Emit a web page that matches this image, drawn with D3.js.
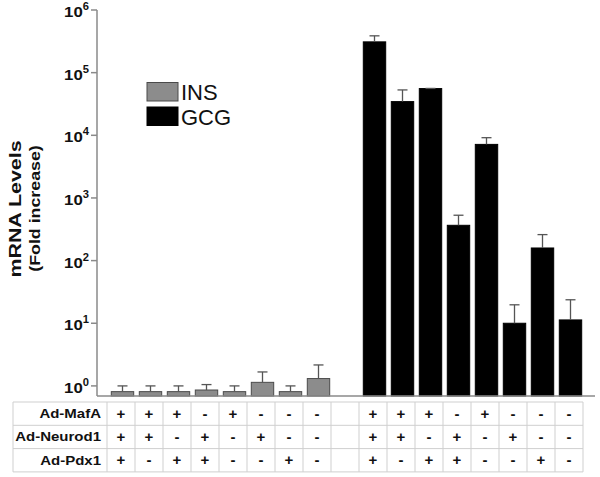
<!DOCTYPE html>
<html>
<head>
<meta charset="utf-8">
<script src="https://cdn.jsdelivr.net/npm/d3@7"></script>
<style>
  html, body { margin: 0; padding: 0; background: #fff; }
  svg { display: block; font-family: "Liberation Sans", Arial, sans-serif; }
</style>
</head>
<body>
<svg id="chart" width="600" height="477"></svg>
<script>
// ---- data ----
const seriesNames = ["INS", "GCG"];
const insMeans = [0.81, 0.81, 0.81, 0.86, 0.81, 1.14, 0.81, 1.31];
const insErr   = [0.19, 0.19, 0.19, 0.19, 0.19, 0.53, 0.19, 0.85];
const gcgMeans = [310000, 34500, 55700, 366, 7160, 10.0, 159, 11.3];
const gcgErr   = [77000, 18500, 300, 164, 2000, 9.7, 101, 12.4];
const rowLabels = ["Ad-MafA", "Ad-Neurod1", "Ad-Pdx1"];
const mafA    = ["+", "+", "+", "-", "+", "-", "-", "-"];
const neurod1 = ["+", "+", "-", "+", "-", "+", "-", "-"];
const pdx1    = ["+", "-", "+", "+", "-", "-", "+", "-"];
const yTicks = [1, 10, 100, 1000, 10000, 100000, 1000000];
const yTitle = "mRNA Levels";
const ySubTitle = "(Fold increase)";

// ---- build slots: 8 INS, a gap, 8 GCG ----
const slots = [];
insMeans.forEach((v, i) => slots.push({ key: "ins" + i, series: "INS", value: v, err: insErr[i], idx: i }));
slots.push({ key: "gap", series: null });
gcgMeans.forEach((v, i) => slots.push({ key: "gcg" + i, series: "GCG", value: v, err: gcgErr[i], idx: i }));
const signRows = [mafA, neurod1, pdx1];

const svg = d3.select("#chart");
const axisX = 97, baseY = 396, topY = 10;

const x = d3.scaleBand().domain(slots.map(d => d.key)).range([107, 583]).paddingInner(0).paddingOuter(0);
const y = d3.scaleLog().domain([0.69, 1000000]).range([baseY, topY]);
const colors = { INS: "#8c8c8c", GCG: "#000000" };
const strokes = { INS: "#4a4a4a", GCG: "#000000" };
const barW = x.bandwidth() * 0.8;

// ---- bars ----
const bars = slots.filter(d => d.series);
svg.append("g").selectAll("rect").data(bars).join("rect")
  .attr("x", d => x(d.key) + (x.bandwidth() - barW) / 2 + 1.5)
  .attr("y", d => y(d.value))
  .attr("width", barW)
  .attr("height", d => baseY - y(d.value))
  .attr("fill", d => colors[d.series])
  .attr("stroke", d => strokes[d.series])
  .attr("stroke-width", 1);

// ---- error bars (upper only) ----
const eg = svg.append("g").attr("stroke", "#555").attr("stroke-width", 1.3);
bars.forEach(d => {
  const cx = x(d.key) + x.bandwidth() / 2 + 1.5;
  const yTop = y(d.value + d.err);
  eg.append("line").attr("x1", cx).attr("x2", cx).attr("y1", y(d.value)).attr("y2", yTop);
  eg.append("line").attr("x1", cx - 5).attr("x2", cx + 5).attr("y1", yTop).attr("y2", yTop);
});

// ---- axes ----
const ax = svg.append("g").attr("stroke", "#8a8a8a").attr("stroke-width", 1.5);
ax.append("line").attr("x1", axisX).attr("x2", axisX).attr("y1", topY).attr("y2", baseY);
ax.append("line").attr("x1", axisX).attr("x2", 595).attr("y1", baseY).attr("y2", baseY);
yTicks.forEach(t => {
  ax.append("line").attr("x1", axisX - 6).attr("x2", axisX).attr("y1", y(t)).attr("y2", y(t));
});
const tl = svg.append("g").attr("font-weight", "bold").attr("fill", "#111");
yTicks.forEach(t => {
  const e = Math.round(Math.log10(t));
  const txt = tl.append("g").attr("transform", `translate(89,${y(t) + 7}) scale(1.12,1)`)
    .append("text").attr("text-anchor", "end").attr("font-size", 15);
  txt.append("tspan").text("10");
  txt.append("tspan").attr("font-size", 10).attr("dy", -7).text(e);
});

// ---- y title ----
svg.append("text").attr("transform", "translate(20.5,209) rotate(-90) scale(1.26,1)")
  .attr("text-anchor", "middle").attr("font-weight", "bold").attr("font-size", 17).attr("fill", "#111")
  .text(yTitle);
svg.append("text").attr("transform", "translate(40,208.5) rotate(-90) scale(1.27,1)")
  .attr("text-anchor", "middle").attr("font-weight", "bold").attr("font-size", 14).attr("fill", "#111")
  .text(ySubTitle);

// ---- legend ----
const lg = svg.append("g");
seriesNames.forEach((s, i) => {
  lg.append("rect").attr("x", 147).attr("y", 82.5 + i * 24.5).attr("width", 31).attr("height", 18.5)
    .attr("fill", colors[s]).attr("stroke", strokes[s]).attr("stroke-width", 1);
  lg.append("text").attr("x", 181).attr("y", 100 + i * 24.5).attr("font-size", 22).attr("fill", "#111")
    .text(s);
});

// ---- table ----
const tableTop = 402, rowH = 23.3, tableLeft = 13, labelRight = 107;
const tg = svg.append("g");
const tableRight = x.range()[1];
const lines = tg.append("g").attr("stroke", "#cfcfcf").attr("stroke-width", 1);
for (let r = 0; r <= 3; r++) {
  lines.append("line").attr("x1", tableLeft).attr("x2", tableRight)
    .attr("y1", tableTop + r * rowH).attr("y2", tableTop + r * rowH);
}
lines.append("line").attr("x1", tableLeft).attr("x2", tableLeft).attr("y1", tableTop).attr("y2", tableTop + 3 * rowH);
slots.forEach(d => {
  lines.append("line").attr("x1", x(d.key)).attr("x2", x(d.key)).attr("y1", tableTop).attr("y2", tableTop + 3 * rowH);
});
lines.append("line").attr("x1", tableRight).attr("x2", tableRight).attr("y1", tableTop).attr("y2", tableTop + 3 * rowH);

rowLabels.forEach((lab, r) => {
  const cy = tableTop + r * rowH + rowH / 2;
  tg.append("g").attr("transform", `translate(${labelRight - 6},${cy + 4.5}) scale(1.2,1)`)
    .append("text").attr("text-anchor", "end")
    .attr("font-weight", "bold").attr("font-size", 12.5).attr("fill", "#111").text(lab);
  slots.filter(d => d.series).forEach(d => {
    tg.append("text").attr("x", x(d.key) + x.bandwidth() / 2).attr("y", cy + 5)
      .attr("text-anchor", "middle").attr("font-weight", "bold").attr("font-size", 15).attr("fill", "#111")
      .text(signRows[r][d.idx]);
  });
});
</script>
</body>
</html>
